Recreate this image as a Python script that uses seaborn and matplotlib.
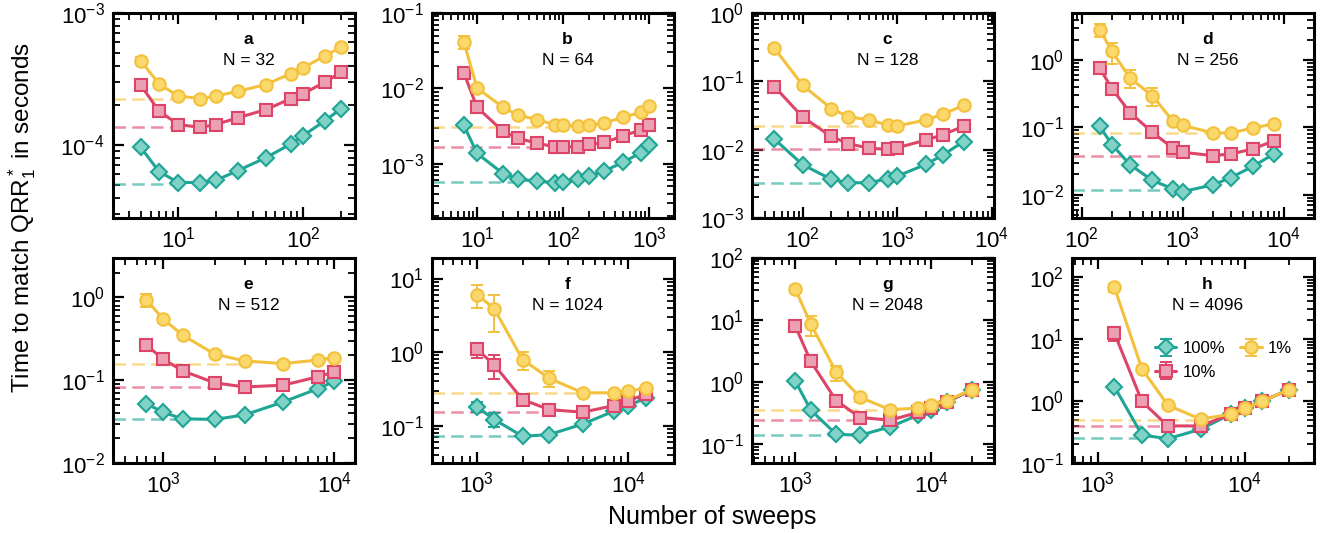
import matplotlib
matplotlib.use("Agg")
import matplotlib.pyplot as plt
import seaborn as sns
from matplotlib.legend_handler import HandlerTuple
from matplotlib.ticker import LogLocator, NullFormatter

# sweeps (x) and time to solution (y) for each panel; series: 100%, 10%, 1%

a_sweeps = [5, 7, 10, 15, 20, 30, 50, 80, 100, 150, 200]
a_t100 = [9.6e-5, 6.3e-5, 5.2e-5, 5.2e-5, 5.4e-5, 6.4e-5, 8.0e-5, 1.02e-4, 1.18e-4, 1.53e-4, 1.88e-4]
a_t10 = [2.84e-4, 1.81e-4, 1.43e-4, 1.36e-4, 1.43e-4, 1.61e-4, 1.85e-4, 2.25e-4, 2.45e-4, 3.0e-4, 3.55e-4]
a_t1 = [4.35e-4, 2.9e-4, 2.35e-4, 2.25e-4, 2.35e-4, 2.55e-4, 2.87e-4, 3.48e-4, 3.85e-4, 4.75e-4, 5.5e-4]
a_err100 = [0.04, 0.03, 0.03, 0.03, 0.03, 0.03, 0.03, 0.03, 0.03, 0.03, 0.03]
a_err10 = [0.07, 0.06, 0.05, 0.05, 0.05, 0.05, 0.05, 0.05, 0.05, 0.05, 0.05]
a_err1 = [0.07, 0.06, 0.05, 0.05, 0.05, 0.05, 0.05, 0.05, 0.05, 0.05, 0.05]
a_ref = [5.1e-5, 1.36e-4, 2.25e-4]

b_sweeps = [7, 10, 20, 30, 50, 80, 100, 150, 200, 300, 500, 800, 1000]
b_t100 = [3.26e-3, 1.37e-3, 7.4e-4, 6.2e-4, 5.86e-4, 5.57e-4, 5.7e-4, 6.3e-4, 6.84e-4, 7.98e-4, 1.05e-3, 1.4e-3, 1.76e-3]
b_t10 = [1.62e-2, 5.6e-3, 2.69e-3, 2.16e-3, 1.87e-3, 1.67e-3, 1.68e-3, 1.67e-3, 1.8e-3, 1.91e-3, 2.35e-3, 2.8e-3, 3.26e-3]
b_t1 = [4.18e-2, 1.01e-2, 5.6e-3, 4.4e-3, 3.85e-3, 3.26e-3, 3.3e-3, 3.13e-3, 3.26e-3, 3.47e-3, 4.13e-3, 4.82e-3, 5.8e-3]
b_err100 = [0.05, 0.05, 0.04, 0.04, 0.04, 0.04, 0.04, 0.04, 0.04, 0.04, 0.04, 0.04, 0.04]
b_err10 = [0.1, 0.08, 0.07, 0.06, 0.05, 0.05, 0.05, 0.05, 0.05, 0.05, 0.05, 0.05, 0.05]
b_err1 = [0.2, 0.1, 0.08, 0.06, 0.06, 0.05, 0.05, 0.05, 0.05, 0.05, 0.06, 0.06, 0.06]
b_ref = [5.7e-4, 1.67e-3, 3.1e-3]

c_sweeps = [50, 100, 200, 300, 500, 800, 1000, 2000, 3000, 5000]
c_t100 = [0.0143, 0.006, 0.00368, 0.00328, 0.00328, 0.00377, 0.0041, 0.0061, 0.0083, 0.0131]
c_t10 = [0.084, 0.0298, 0.0156, 0.0123, 0.0105, 0.0101, 0.0107, 0.0138, 0.0165, 0.022]
c_t1 = [0.305, 0.087, 0.04, 0.0305, 0.0272, 0.0228, 0.0223, 0.0272, 0.033, 0.0443]
c_err100 = [0.05, 0.04, 0.04, 0.03, 0.03, 0.03, 0.03, 0.03, 0.03, 0.03]
c_err10 = [0.08, 0.07, 0.06, 0.05, 0.05, 0.05, 0.05, 0.05, 0.05, 0.05]
c_err1 = [0.12, 0.1, 0.08, 0.07, 0.06, 0.06, 0.06, 0.05, 0.05, 0.06]
c_ref = [0.0033, 0.0103, 0.0223]

d_sweeps = [150, 200, 300, 500, 800, 1000, 2000, 3000, 5000, 8000]
d_t100 = [0.104, 0.055, 0.028, 0.0163, 0.0122, 0.0111, 0.014, 0.0179, 0.0265, 0.0402]
d_t10 = [0.766, 0.373, 0.166, 0.0845, 0.049, 0.0426, 0.038, 0.0402, 0.0478, 0.0632]
d_t1 = [2.84, 1.34, 0.54, 0.296, 0.124, 0.107, 0.0826, 0.0826, 0.098, 0.113]
d_err100 = [0.08, 0.07, 0.06, 0.05, 0.05, 0.04, 0.04, 0.04, 0.04, 0.04]
d_err10 = [0.12, 0.1, 0.1, 0.08, 0.07, 0.06, 0.05, 0.05, 0.05, 0.05]
d_err1 = [0.22, 0.35, 0.3, 0.3, 0.12, 0.1, 0.06, 0.06, 0.06, 0.06]
d_ref = [0.0118, 0.038, 0.083]

e_sweeps = [800, 1000, 1300, 2000, 3000, 5000, 8000, 10000]
e_t100 = [0.052, 0.041, 0.0342, 0.0336, 0.0382, 0.0544, 0.079, 0.097]
e_t10 = [0.265, 0.18, 0.13, 0.093, 0.083, 0.087, 0.11, 0.126]
e_t1 = [0.935, 0.55, 0.351, 0.207, 0.171, 0.159, 0.175, 0.188]
e_err100 = [0.06, 0.05, 0.04, 0.04, 0.04, 0.04, 0.04, 0.04]
e_err10 = [0.12, 0.08, 0.07, 0.06, 0.06, 0.05, 0.05, 0.06]
e_err1 = [0.17, 0.1, 0.07, 0.06, 0.06, 0.05, 0.06, 0.06]
e_ref = [0.0336, 0.083, 0.156]

f_sweeps = [1000, 1300, 2000, 3000, 5000, 8000, 10000, 13000]
f_t100 = [0.18, 0.121, 0.0716, 0.0754, 0.105, 0.157, 0.187, 0.236]
f_t10 = [1.087, 0.67, 0.226, 0.165, 0.152, 0.187, 0.219, 0.265]
f_t1 = [6.05, 3.9, 0.79, 0.44, 0.279, 0.279, 0.294, 0.323]
f_err100 = [0.15, 0.21, 0.05, 0.05, 0.05, 0.05, 0.05, 0.05]
f_err10 = [0.23, 0.35, 0.15, 0.07, 0.06, 0.06, 0.06, 0.06]
f_err1 = [0.35, 0.52, 0.27, 0.24, 0.1, 0.07, 0.07, 0.08]
f_ref = [0.0716, 0.152, 0.279]

g_sweeps = [1000, 1300, 2000, 3000, 5000, 8000, 10000, 13000, 20000]
g_t100 = [1.04, 0.356, 0.145, 0.14, 0.191, 0.295, 0.36, 0.474, 0.76]
g_t10 = [8.0, 2.16, 0.505, 0.27, 0.245, 0.326, 0.384, 0.486, 0.76]
g_t1 = [31.8, 8.6, 1.45, 0.571, 0.36, 0.384, 0.434, 0.505, 0.76]
g_err100 = [0.1, 0.07, 0.05, 0.05, 0.05, 0.05, 0.05, 0.05, 0.05]
g_err10 = [0.12, 0.15, 0.12, 0.06, 0.05, 0.05, 0.05, 0.05, 0.05]
g_err1 = [0.1, 0.35, 0.28, 0.15, 0.06, 0.06, 0.06, 0.05, 0.05]
g_ref = [0.14, 0.245, 0.36]

h_sweeps = [1300, 2000, 3000, 5000, 8000, 10000, 13000, 20000]
h_t100 = [1.7, 0.282, 0.246, 0.349, 0.61, 0.755, 0.98, 1.52]
h_t10 = [12.4, 0.98, 0.395, 0.395, 0.61, 0.755, 0.98, 1.52]
h_t1 = [67.5, 3.28, 0.855, 0.507, 0.61, 0.755, 0.98, 1.52]
h_err100 = [0.12, 0.07, 0.05, 0.05, 0.05, 0.05, 0.05, 0.05]
h_err10 = [0.25, 0.12, 0.06, 0.05, 0.05, 0.05, 0.05, 0.05]
h_err1 = [0.15, 0.12, 0.1, 0.06, 0.05, 0.05, 0.05, 0.05]
h_ref = [0.25, 0.395, 0.5]

panel_letters = ["a", "b", "c", "d", "e", "f", "g", "h"]
panel_sizes = [32, 64, 128, 256, 512, 1024, 2048, 4096]
series_labels = ["100%", "10%", "1%"]

panels = [
    (a_sweeps, [a_t100, a_t10, a_t1], [a_err100, a_err10, a_err1], a_ref, (3, 260), (2.8e-5, 1e-3)),
    (b_sweeps, [b_t100, b_t10, b_t1], [b_err100, b_err10, b_err1], b_ref, (3, 1930), (1.9e-4, 0.1)),
    (c_sweeps, [c_t100, c_t10, c_t1], [c_err100, c_err10, c_err1], c_ref, (29, 1.05e4), (1e-3, 1)),
    (d_sweeps, [d_t100, d_t10, d_t1], [d_err100, d_err10, d_err1], d_ref, (80, 2e4), (4.5e-3, 5)),
    (e_sweeps, [e_t100, e_t10, e_t1], [e_err100, e_err10, e_err1], e_ref, (510, 13200), (0.01, 3)),
    (f_sweeps, [f_t100, f_t10, f_t1], [f_err100, f_err10, f_err1], f_ref, (505, 20000), (0.031, 19)),
    (g_sweeps, [g_t100, g_t10, g_t1], [g_err100, g_err10, g_err1], g_ref, (480, 29000), (0.05, 100)),
    (h_sweeps, [h_t100, h_t10, h_t1], [h_err100, h_err10, h_err1], h_ref, (670, 29500), (0.1, 200)),
]

line_colors = ["#1ea595", "#dd4468", "#f4c13d"]
face_colors = ["#80d2c7", "#eca0b3", "#fbd86c"]
markers = ["D", "s", "o"]
marker_sizes = [8.5, 8, 9]

sns.set_style("ticks")
plt.rcParams["font.family"] = ["Liberation Sans", "DejaVu Sans"]
plt.rcParams["mathtext.fontset"] = "custom"
plt.rcParams["mathtext.rm"] = "Liberation Sans"
plt.rcParams["mathtext.it"] = "Liberation Sans:italic"
plt.rcParams["mathtext.bf"] = "Liberation Sans:bold"
for key in ["text.color", "axes.labelcolor", "xtick.color", "ytick.color", "axes.edgecolor"]:
    plt.rcParams[key] = "black"
plt.rcParams["xtick.minor.visible"] = True
plt.rcParams["ytick.minor.visible"] = True

fig = plt.figure(figsize=(13.33, 5.33), dpi=100)
W, H = 1333, 533
col_left = [113, 432, 752, 1072]
row_top = [13, 258]
ax_w, ax_h = 242, 205

legend_handles = []
for i, (sweeps, times, errs, refs, xlim, ylim) in enumerate(panels):
    r, c = divmod(i, 4)
    ax = fig.add_axes([col_left[c] / W, 1 - (row_top[r] + ax_h) / H, ax_w / W, ax_h / H])
    ax.set_xscale("log")
    ax.set_yscale("log")
    for k in range(3):
        y = times[k]
        yerr = [v * e for v, e in zip(y, errs[k])]
        # reference level, drawn up to where the curve reaches it
        end_x = next(x for x, v in zip(sweeps, y) if v <= refs[k] * 1.15)
        ax.plot([xlim[0], end_x], [refs[k], refs[k]], color=line_colors[k], alpha=0.6,
                lw=1.8, ls=(0, (5, 2.5)), zorder=1)
        eb = ax.errorbar(sweeps, y, yerr=yerr, fmt="none", ecolor=line_colors[k],
                         elinewidth=1.4, capsize=4, capthick=1.4, zorder=2 + k)
        sns.lineplot(x=sweeps, y=y, ax=ax, color=line_colors[k], marker=markers[k],
                     markersize=marker_sizes[k], markerfacecolor=face_colors[k],
                     markeredgecolor=line_colors[k], markeredgewidth=1.5, linewidth=2.2,
                     estimator=None, legend=False, zorder=2 + k)
        if i == 7:
            legend_handles.append((eb, ax.lines[-1]))
    ax.set_xlim(*xlim)
    ax.set_ylim(*ylim)
    ax.minorticks_on()
    for axis in (ax.xaxis, ax.yaxis):
        axis.set_major_locator(LogLocator(base=10, numticks=20))
        axis.set_minor_locator(LogLocator(base=10, subs=range(2, 10), numticks=100))
        axis.set_minor_formatter(NullFormatter())
    ax.tick_params(which="both", direction="in", top=True, right=True, labelsize=16,
                   pad=6, colors="black")
    ax.tick_params(which="major", length=8, width=1.6)
    ax.tick_params(which="minor", length=5, width=1.3)
    for sp in ax.spines.values():
        sp.set_linewidth(2.2)
        sp.set_color("black")
    ax.text(0.56, 0.87, panel_letters[i], transform=ax.transAxes, ha="center",
            va="center", fontsize=12.5, fontweight="bold")
    ax.text(0.56, 0.77, f"N = {panel_sizes[i]}", transform=ax.transAxes, ha="center",
            va="center", fontsize=12.5)
    ax.set_xlabel("")
    ax.set_ylabel("")
    if i == 7:
        ax.legend(legend_handles, series_labels, ncol=2, loc="center left",
                  bbox_to_anchor=(0.28, 0.5), frameon=False, fontsize=12,
                  handler_map={tuple: HandlerTuple(ndivide=1)},
                  handlelength=1.3, columnspacing=0.9, handletextpad=0.35,
                  labelspacing=0.5)

fig.text(0.534, 0.03, "Number of sweeps", ha="center", va="center", fontsize=18)
fig.text(0.0165, 0.593, "Time to match QRR$_1^*$ in seconds", ha="center", va="center",
         rotation=90, fontsize=17.5)

fig.savefig("out.png", dpi=100)
